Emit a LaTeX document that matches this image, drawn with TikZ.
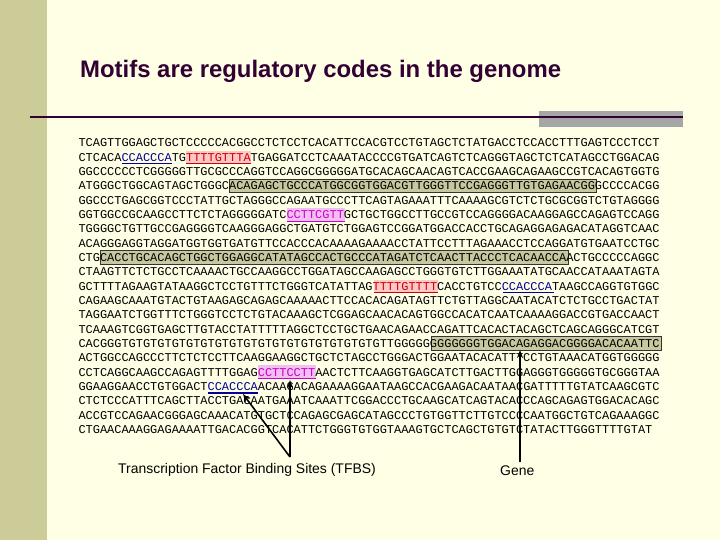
\documentclass[tikz,border=0pt]{standalone}
\usepackage{fontspec}
\setmainfont{Liberation Sans}
\setmonofont{Liberation Mono}
\usetikzlibrary{arrows.meta}
\definecolor{bgc}{HTML}{FFFFE6}
\definecolor{band}{HTML}{CCCC99}
\definecolor{boxc}{HTML}{C8C8A0}
\definecolor{titlec}{HTML}{330033}
\definecolor{redm}{HTML}{CC0000}
\definecolor{bluem}{HTML}{000099}
\definecolor{magm}{HTML}{CC00CC}
\newcommand\motifbg[4]{\path[#4] ({78.3+#2*7.2},{143+(#1-1)*14.33-6.8}) rectangle ({78.3+(#2+#3)*7.2},{143+(#1-1)*14.33+6.8});}
\newcommand\motifund[4]{\draw[#4,line width=1.3pt] ({78.3+#2*7.2},{143+(#1-1)*14.33+6.5}) -- ({78.3+(#2+#3)*7.2},{143+(#1-1)*14.33+6.5});}
\newcommand\R[1]{\textcolor{redm}{#1}}
\newcommand\B[1]{\textcolor{bluem}{#1}}
\newcommand\M[1]{\textcolor{magm}{#1}}
\begin{document}
\begin{tikzpicture}[x=1bp,y=-1bp,
  seq/.style={anchor=west,inner sep=0pt,font=\ttfamily\fontsize{12}{12}\selectfont},
  lab/.style={inner sep=0pt,font=\fontsize{14}{14}\selectfont},
  arr/.style={line width=1.6pt,-{Stealth[length=8bp,width=6bp]}},
  mbox/.style={fill=boxc,draw=black!80,line width=0.8pt},
  rbg/.style={fill=red!22},
  mbg/.style={fill=magm!25}]
\useasboundingbox (0,0) rectangle (720,540);
\fill[bgc] (0,0) rectangle (720,540);
\fill[band] (0,0) rectangle (47,540);
\node[anchor=base west,inner sep=0pt,font=\bfseries\fontsize{24}{24}\selectfont,text=titlec] (title) at (80,78) {Motifs are regulatory codes in the genome};
\fill[black!35] (539,111) rectangle (683,127);
\draw[titlec,line width=3pt] (30,117) -- (683,117);
% backgrounds
\motifbg{2}{15}{9}{rbg}
\motifbg{4}{21}{51}{mbox}
\motifbg{6}{29}{8}{mbg}
\motifbg{9}{3}{65}{mbox}
\motifbg{11}{41}{9}{rbg}
\motifbg{15}{49}{32}{mbox}
\motifbg{17}{25}{8}{mbg}
\foreach \i/\s in {
1/TCAGTTGGAGCTGCTCCCCCACGGCCTCTCCTCACATTCCACGTCCTGTAGCTCTATGACCTCCACCTTTGAGTCCCTCCT,
2/CTCACA\B{CCACCCA}TG\R{TTTTGTTTA}TGAGGATCCTCAAATACCCCGTGATCAGTCTCAGGGTAGCTCTCATAGCCTGGACAG,
3/GGCCCCCCTCGGGGGTTGCGCCCAGGTCCAGGCGGGGGATGCACAGCAACAGTCACCGAAGCAGAAGCCGTCACAGTGGTG,
4/ATGGGCTGGCAGTAGCTGGGCACAGAGCTGCCCATGGCGGTGGACGTTGGGTTCCGAGGGTTGTGAGAACGGGCCCCACGG,
5/GGCCCTGAGCGGTCCCTATTGCTAGGGCCAGAATGCCCTTCAGTAGAAATTTCAAAAGCGTCTCTGCGCGGTCTGTAGGGG,
6/GGTGGCCGCAAGCCTTCTCTAGGGGGATC\M{CCTTCGTT}GCTGCTGGCCTTGCCGTCCAGGGGACAAGGAGCCAGAGTCCAGG,
7/TGGGGCTGTTGCCGAGGGGTCAAGGGAGGCTGATGTCTGGAGTCCGGATGGACCACCTGCAGAGGAGAGACATAGGTCAAC,
8/ACAGGGAGGTAGGATGGTGGTGATGTTCCACCCACAAAAGAAAACCTATTCCTTTAGAAACCTCCAGGATGTGAATCCTGC,
9/CTGCACCTGCACAGCTGGCTGGAGGCATATAGCCACTGCCCATAGATCTCAACTTACCCTCACAACCAACTGCCCCCAGGC,
10/CTAAGTTCTCTGCCTCAAAACTGCCAAGGCCTGGATAGCCAAGAGCCTGGGTGTCTTGGAAATATGCAACCATAAATAGTA,
11/GCTTTTAGAAGTATAAGGCTCCTGTTTCTGGGTCATATTAG\R{TTTTGTTTT}CACCTGTCC\B{CCACCCA}TAAGCCAGGTGTGGC,
12/CAGAAGCAAATGTACTGTAAGAGCAGAGCAAAAACTTCCACACAGATAGTTCTGTTAGGCAATACATCTCTGCCTGACTAT,
13/TAGGAATCTGGTTTCTGGGTCCTCTGTACAAAGCTCGGAGCAACACAGTGGCCACATCAATCAAAAGGACCGTGACCAACT,
14/TCAAAGTCGGTGAGCTTGTACCTATTTTTAGGCTCCTGCTGAACAGAACCAGATTCACACTACAGCTCAGCAGGGCATCGT,
15/CACGGGTGTGTGTGTGTGTGTGTGTGTGTGTGTGTGTGTGTGTTGGGGGGGGGGGGTGGACAGAGGACGGGGACACAATTC,
16/ACTGGCCAGCCCTTCTCTCCTTCAAGGAAGGCTGCTCTAGCCTGGGACTGGAATACACATTTCCTGTAAACATGGTGGGGG,
17/CCTCAGGCAAGCCAGAGTTTTGGAG\M{CCTTCCTT}AACTCTTCAAGGTGAGCATCTTGACTTGGAGGGTGGGGGTGCGGGTAA,
18/GGAAGGAACCTGTGGACT\B{CCACCCA}ACAAGACAGAAAAGGAATAAGCCACGAAGACAATAACGATTTTTGTATCAAGCGTC,
19/CTCTCCCATTTCAGCTTACCTGACAATGAAATCAAATTCGGACCCTGCAAGCATCAGTACACCCAGCAGAGTGGACACAGC,
20/ACCGTCCAGAACGGGAGCAAACATGTGCTCCAGAGCGAGCATAGCCCTGTGGTTCTTGTCCCCAATGGCTGTCAGAAAGGC,
21/CTGAACAAAGGAGAAAATTGACACGGTCACATTCTGGGTGTGGTAAAGTGCTCAGCTGTGTCTATACTTGGGTTTTGTAT}
  \node[seq] (l\i) at (78.3,{143+(\i-1)*14.33}) {\s};
% underlines
\motifund{2}{6}{7}{bluem}
\motifund{2}{15}{9}{redm}
\motifund{6}{29}{8}{magm}
\motifund{11}{41}{9}{redm}
\motifund{11}{59}{7}{bluem}
\motifund{17}{25}{8}{magm}
\motifund{18}{18}{7}{bluem}
% labels and arrows
\node[lab,anchor=west] (tfbs) at (118,470) {Transcription Factor Binding Sites (TFBS)};
\node[lab,anchor=west] (gene) at (500,471) {Gene};
\coordinate (tb) at (290,457);
\coordinate (gb) at (520,462);
\coordinate (t1) at (243,394);
\coordinate (t2) at (290,380);
\coordinate (g1) at (520,350);
\draw[arr] (tb) -- (t1);
\draw[arr] (tb) -- (t2);
\draw[arr] (gb) -- (g1);
\end{tikzpicture}
\end{document}
